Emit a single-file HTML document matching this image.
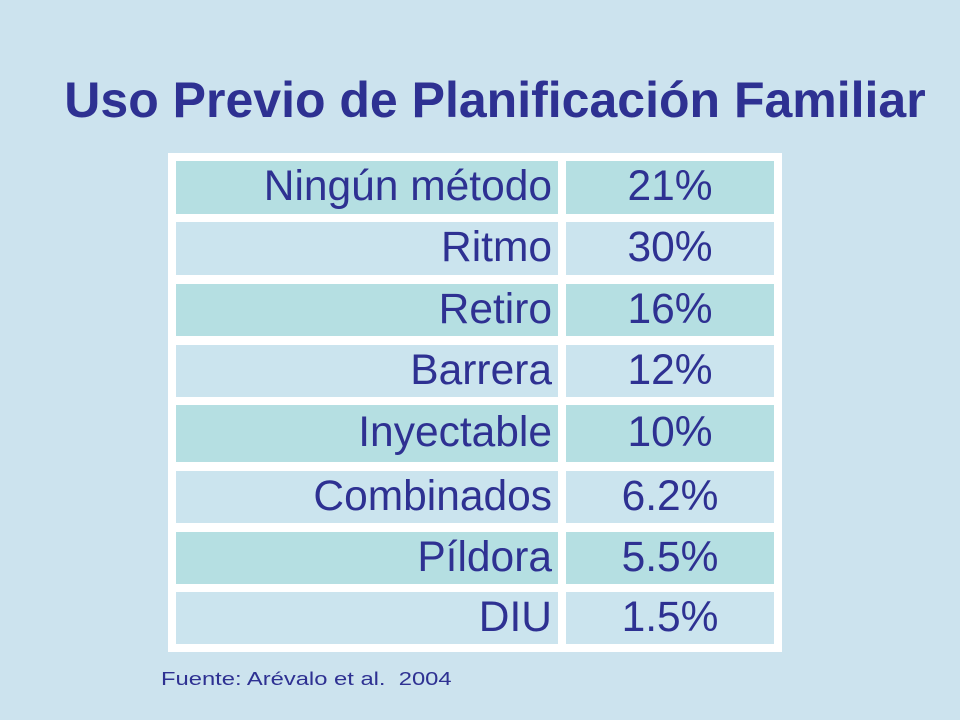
<!DOCTYPE html>
<html><head><meta charset="utf-8"><style>
body{margin:0;width:960px;height:720px;background:#cce3ee;position:relative;overflow:hidden;font-family:"Liberation Sans",sans-serif;color:#2e3192}
.t{position:absolute;left:0;width:990px;top:70px;text-align:center;font-weight:bold;font-size:50px;line-height:60px}
.frame{position:absolute;left:168px;top:153px;width:614px;height:499px;background:#fff}
.c{position:absolute;font-size:42.5px;line-height:1;display:flex;align-items:center}
.l{left:176px;width:376px;justify-content:flex-end;padding-right:6px}
.v{left:566px;width:208px;justify-content:center}
.src{position:absolute;left:161px;top:668px;font-size:18px;line-height:22px;transform:scaleX(1.32);transform-origin:left center;white-space:pre}
</style></head><body>
<div class="t">Uso Previo de Planificación Familiar</div>
<div class="frame"></div>
<div id="tbl"></div>
<div class="src">Fuente: Arévalo et al.  2004</div>
<script>
const labels=["Ningún método","Ritmo","Retiro","Barrera","Inyectable","Combinados","Píldora","DIU"];
const values=["21%","30%","16%","12%","10%","6.2%","5.5%","1.5%"];
const tops=[161,222,284,345,405,471,532,592];
const hs=[53,53,52,52,57,52,52,52];
const tbl=document.getElementById('tbl');
labels.forEach((lab,i)=>{
  const bg=i%2===0?'#b5dfe2':'#cbe4ee';
  const a=document.createElement('div');
  a.className='c l';
  
  
  a.style.top=tops[i]+'px';a.style.height=hs[i]+'px';a.style.background=bg;
  a.textContent=lab;tbl.appendChild(a);
  const b=document.createElement('div');
  b.className='c v';
  
  
  b.style.top=tops[i]+'px';b.style.height=hs[i]+'px';b.style.background=bg;
  b.textContent=values[i];tbl.appendChild(b);
});
</script>
</body></html>
